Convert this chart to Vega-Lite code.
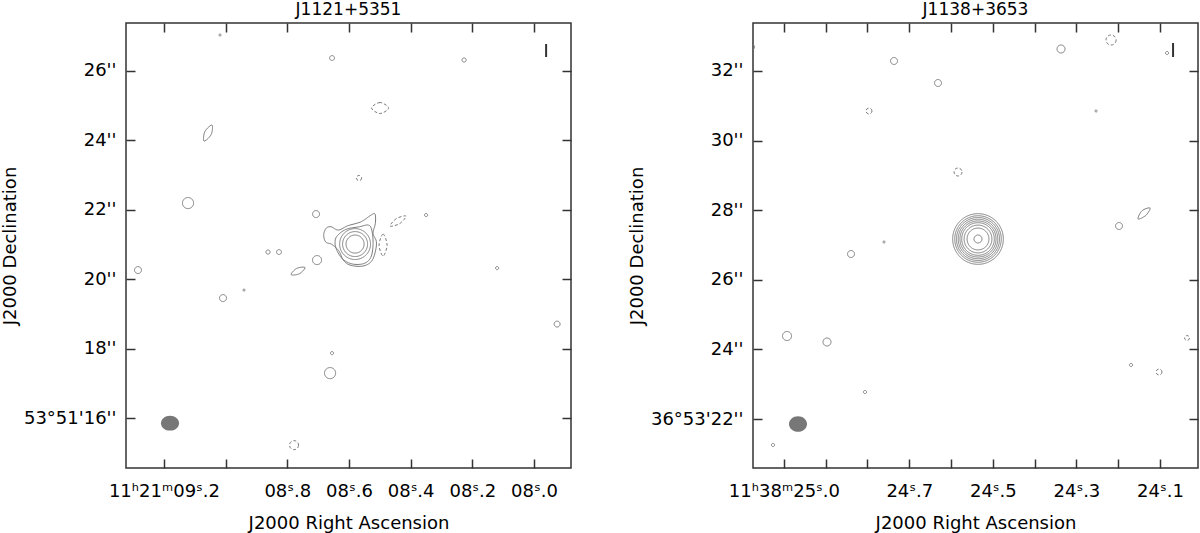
{
  "$schema": "https://vega.github.io/schema/vega-lite/v6.json",
  "background": "white",
  "padding": {"left": 0, "top": 0, "right": 0, "bottom": 0},
  "spacing": 54,
  "config": {
    "view": {"stroke": "#333333", "strokeWidth": 1.5},
    "axis": {"labelFont": "DejaVu Sans", "labelFontSize": 18, "labelColor": "#000000", "titleFont": "DejaVu Sans", "titleFontSize": 18, "titleFontWeight": "normal", "titleColor": "#000000", "domain": false, "grid": false, "tickColor": "#333333", "tickWidth": 1.5, "tickSize": -9, "labelOverlap": false, "labelFlush": false},
    "axisBottom": {"titlePadding": 14},
    "title": {"font": "DejaVu Sans", "fontSize": 17, "fontWeight": "normal", "color": "#000000", "offset": 3}
  },
  "datasets": {
    "L_points": [
      {"ra_s": 8.5802, "dec_as": 21.0112, "diam": 0.52, "sign": "pos"},
      {"ra_s": 8.5802, "dec_as": 21.0112, "diam": 0.72, "sign": "pos"},
      {"ra_s": 8.5802, "dec_as": 21.0112, "diam": 0.89, "sign": "pos"},
      {"ra_s": 9.0181, "dec_as": 27.0342, "diam": 0.06, "sign": "pos"},
      {"ra_s": 8.6548, "dec_as": 26.3714, "diam": 0.14, "sign": "pos"},
      {"ra_s": 8.2267, "dec_as": 26.3137, "diam": 0.12, "sign": "pos"},
      {"ra_s": 8.5673, "dec_as": 22.9132, "diam": 0.15, "sign": "neg"},
      {"ra_s": 9.1219, "dec_as": 22.1927, "diam": 0.32, "sign": "pos"},
      {"ra_s": 8.7067, "dec_as": 21.8757, "diam": 0.2, "sign": "pos"},
      {"ra_s": 9.2841, "dec_as": 20.2619, "diam": 0.2, "sign": "pos"},
      {"ra_s": 8.8624, "dec_as": 20.7807, "diam": 0.12, "sign": "pos"},
      {"ra_s": 8.8268, "dec_as": 20.7807, "diam": 0.14, "sign": "pos"},
      {"ra_s": 8.7035, "dec_as": 20.5501, "diam": 0.26, "sign": "pos"},
      {"ra_s": 9.0084, "dec_as": 19.455, "diam": 0.2, "sign": "pos"},
      {"ra_s": 8.9403, "dec_as": 19.6856, "diam": 0.06, "sign": "pos"},
      {"ra_s": 8.3499, "dec_as": 21.8469, "diam": 0.09, "sign": "pos"},
      {"ra_s": 8.1196, "dec_as": 20.3196, "diam": 0.09, "sign": "pos"},
      {"ra_s": 7.925, "dec_as": 18.7058, "diam": 0.17, "sign": "pos"},
      {"ra_s": 8.6548, "dec_as": 17.87, "diam": 0.09, "sign": "pos"},
      {"ra_s": 8.6613, "dec_as": 17.2937, "diam": 0.32, "sign": "pos"},
      {"ra_s": 8.7781, "dec_as": 15.2188, "diam": 0.26, "sign": "neg"}
    ],
    "L_lines": [
      {"id": "src1", "k": 1, "ra_s": 8.6743, "dec_as": 21.4636, "sign": "pos"},
      {"id": "src1", "k": 2, "ra_s": 8.6581, "dec_as": 21.5098, "sign": "pos"},
      {"id": "src1", "k": 3, "ra_s": 8.6344, "dec_as": 21.4147, "sign": "pos"},
      {"id": "src1", "k": 4, "ra_s": 8.6039, "dec_as": 21.5386, "sign": "pos"},
      {"id": "src1", "k": 5, "ra_s": 8.5608, "dec_as": 21.6539, "sign": "pos"},
      {"id": "src1", "k": 6, "ra_s": 8.5283, "dec_as": 21.8469, "sign": "pos"},
      {"id": "src1", "k": 7, "ra_s": 8.5154, "dec_as": 21.8757, "sign": "pos"},
      {"id": "src1", "k": 8, "ra_s": 8.5144, "dec_as": 21.6077, "sign": "pos"},
      {"id": "src1", "k": 9, "ra_s": 8.5218, "dec_as": 21.3195, "sign": "pos"},
      {"id": "src1", "k": 10, "ra_s": 8.5111, "dec_as": 21.0775, "sign": "pos"},
      {"id": "src1", "k": 11, "ra_s": 8.5154, "dec_as": 20.7605, "sign": "pos"},
      {"id": "src1", "k": 12, "ra_s": 8.5283, "dec_as": 20.5011, "sign": "pos"},
      {"id": "src1", "k": 13, "ra_s": 8.5552, "dec_as": 20.3772, "sign": "pos"},
      {"id": "src1", "k": 14, "ra_s": 8.5932, "dec_as": 20.3974, "sign": "pos"},
      {"id": "src1", "k": 15, "ra_s": 8.6169, "dec_as": 20.5299, "sign": "pos"},
      {"id": "src1", "k": 16, "ra_s": 8.6331, "dec_as": 20.8181, "sign": "pos"},
      {"id": "src1", "k": 17, "ra_s": 8.6558, "dec_as": 21.0026, "sign": "pos"},
      {"id": "src1", "k": 18, "ra_s": 8.6753, "dec_as": 21.0688, "sign": "pos"},
      {"id": "src1", "k": 19, "ra_s": 8.6818, "dec_as": 21.2706, "sign": "pos"},
      {"id": "src2", "k": 1, "ra_s": 8.6386, "dec_as": 21.2418, "sign": "pos"},
      {"id": "src2", "k": 2, "ra_s": 8.6094, "dec_as": 21.4348, "sign": "pos"},
      {"id": "src2", "k": 3, "ra_s": 8.5663, "dec_as": 21.5098, "sign": "pos"},
      {"id": "src2", "k": 4, "ra_s": 8.5371, "dec_as": 21.5587, "sign": "pos"},
      {"id": "src2", "k": 5, "ra_s": 8.5261, "dec_as": 21.4147, "sign": "pos"},
      {"id": "src2", "k": 6, "ra_s": 8.5218, "dec_as": 21.0313, "sign": "pos"},
      {"id": "src2", "k": 7, "ra_s": 8.5283, "dec_as": 20.6452, "sign": "pos"},
      {"id": "src2", "k": 8, "ra_s": 8.55, "dec_as": 20.455, "sign": "pos"},
      {"id": "src2", "k": 9, "ra_s": 8.5877, "dec_as": 20.4348, "sign": "pos"},
      {"id": "src2", "k": 10, "ra_s": 8.6192, "dec_as": 20.5703, "sign": "pos"},
      {"id": "src2", "k": 11, "ra_s": 8.6386, "dec_as": 20.8181, "sign": "pos"},
      {"id": "src2", "k": 12, "ra_s": 8.6451, "dec_as": 21.0487, "sign": "pos"},
      {"id": "E", "k": 1, "ra_s": 9.0441, "dec_as": 24.4405, "sign": "pos"},
      {"id": "E", "k": 2, "ra_s": 9.0671, "dec_as": 24.2561, "sign": "pos"},
      {"id": "E", "k": 3, "ra_s": 9.07, "dec_as": 23.9795, "sign": "pos"},
      {"id": "E", "k": 4, "ra_s": 9.047, "dec_as": 24.1639, "sign": "pos"},
      {"id": "F", "k": 1, "ra_s": 8.4715, "dec_as": 24.9305, "sign": "neg"},
      {"id": "F", "k": 2, "ra_s": 8.4991, "dec_as": 25.089, "sign": "neg"},
      {"id": "F", "k": 3, "ra_s": 8.5267, "dec_as": 24.9305, "sign": "neg"},
      {"id": "F", "k": 4, "ra_s": 8.4991, "dec_as": 24.772, "sign": "neg"},
      {"id": "L", "k": 1, "ra_s": 8.7424, "dec_as": 20.334, "sign": "pos"},
      {"id": "L", "k": 2, "ra_s": 8.7695, "dec_as": 20.3103, "sign": "pos"},
      {"id": "L", "k": 3, "ra_s": 8.7878, "dec_as": 20.1323, "sign": "pos"},
      {"id": "L", "k": 4, "ra_s": 8.7608, "dec_as": 20.1559, "sign": "pos"},
      {"id": "P", "k": 1, "ra_s": 8.4148, "dec_as": 21.8181, "sign": "neg"},
      {"id": "P", "k": 2, "ra_s": 8.4459, "dec_as": 21.7472, "sign": "neg"},
      {"id": "P", "k": 3, "ra_s": 8.4667, "dec_as": 21.5299, "sign": "neg"},
      {"id": "P", "k": 4, "ra_s": 8.4356, "dec_as": 21.6008, "sign": "neg"},
      {"id": "Q", "k": 1, "ra_s": 8.4764, "dec_as": 20.9824, "sign": "neg"},
      {"id": "Q", "k": 2, "ra_s": 8.4894, "dec_as": 21.2994, "sign": "neg"},
      {"id": "Q", "k": 3, "ra_s": 8.5024, "dec_as": 20.9824, "sign": "neg"},
      {"id": "Q", "k": 4, "ra_s": 8.4894, "dec_as": 20.6654, "sign": "neg"}
    ],
    "L_beam": [{"ra_s": 9.1803, "dec_as": 15.8528, "diam": 0.52}],
    "L_bar": [{"ra_s": 7.9607, "dec_lo": 26.4002, "dec_hi": 26.7748}],
    "R_points": [
      {"ra_s": 24.5355, "dec_as": 27.1723, "diam": 0.23, "sign": "pos"},
      {"ra_s": 24.5355, "dec_as": 27.1723, "diam": 0.63, "sign": "pos"},
      {"ra_s": 24.5355, "dec_as": 27.1723, "diam": 0.8, "sign": "pos"},
      {"ra_s": 24.5355, "dec_as": 27.1723, "diam": 0.94, "sign": "pos"},
      {"ra_s": 24.5355, "dec_as": 27.1723, "diam": 1.04, "sign": "pos"},
      {"ra_s": 24.5355, "dec_as": 27.1723, "diam": 1.14, "sign": "pos"},
      {"ra_s": 24.5355, "dec_as": 27.1723, "diam": 1.24, "sign": "pos"},
      {"ra_s": 24.5355, "dec_as": 27.1723, "diam": 1.34, "sign": "pos"},
      {"ra_s": 24.5355, "dec_as": 27.1723, "diam": 1.46, "sign": "pos"},
      {"ra_s": 25.0764, "dec_as": 32.6896, "diam": 0.15, "sign": "pos"},
      {"ra_s": 24.7365, "dec_as": 32.2873, "diam": 0.2, "sign": "pos"},
      {"ra_s": 24.6312, "dec_as": 31.6551, "diam": 0.2, "sign": "pos"},
      {"ra_s": 24.3368, "dec_as": 32.6321, "diam": 0.23, "sign": "pos"},
      {"ra_s": 24.2171, "dec_as": 32.8908, "diam": 0.29, "sign": "neg"},
      {"ra_s": 24.0831, "dec_as": 32.5172, "diam": 0.09, "sign": "pos"},
      {"ra_s": 24.7963, "dec_as": 30.8505, "diam": 0.17, "sign": "neg"},
      {"ra_s": 24.253, "dec_as": 30.8505, "diam": 0.06, "sign": "pos"},
      {"ra_s": 24.5833, "dec_as": 29.0976, "diam": 0.23, "sign": "neg"},
      {"ra_s": 24.7604, "dec_as": 27.0861, "diam": 0.06, "sign": "pos"},
      {"ra_s": 24.8394, "dec_as": 26.7413, "diam": 0.2, "sign": "pos"},
      {"ra_s": 24.198, "dec_as": 27.5459, "diam": 0.2, "sign": "pos"},
      {"ra_s": 24.9926, "dec_as": 24.3849, "diam": 0.26, "sign": "pos"},
      {"ra_s": 24.8969, "dec_as": 24.2125, "diam": 0.23, "sign": "pos"},
      {"ra_s": 24.0352, "dec_as": 24.3274, "diam": 0.14, "sign": "neg"},
      {"ra_s": 24.8059, "dec_as": 22.7757, "diam": 0.09, "sign": "pos"},
      {"ra_s": 24.1692, "dec_as": 23.5516, "diam": 0.09, "sign": "pos"},
      {"ra_s": 24.1022, "dec_as": 23.3504, "diam": 0.17, "sign": "neg"},
      {"ra_s": 25.0261, "dec_as": 21.2527, "diam": 0.09, "sign": "pos"}
    ],
    "R_lines": [
      {"id": "R1", "k": 1, "ra_s": 24.1238, "dec_as": 28.0631, "sign": "pos"},
      {"id": "R1", "k": 2, "ra_s": 24.143, "dec_as": 27.9829, "sign": "pos"},
      {"id": "R1", "k": 3, "ra_s": 24.1525, "dec_as": 27.747, "sign": "pos"},
      {"id": "R1", "k": 4, "ra_s": 24.1333, "dec_as": 27.8559, "sign": "pos"}
    ],
    "R_beam": [{"ra_s": 24.9663, "dec_as": 21.8562, "diam": 0.52}],
    "R_bar": [{"ra_s": 24.0687, "dec_lo": 32.4022, "dec_hi": 32.8046}]
  },
  "hconcat": [
    {
      "title": {"text": "J1121+5351"},
      "width": 445,
      "height": 445,
      "layer": [
        {
          "data": {"name": "L_points"},
          "mark": {"type": "point", "shape": "circle", "filled": false, "stroke": "#7a7a7a", "strokeWidth": 1, "opacity": 1, "clip": true},
          "encoding": {
            "x": {"field": "ra_s", "type": "quantitative", "scale": {"domain": [7.88, 9.323], "reverse": true, "nice": false, "zero": false},
                  "axis": {"orient": "bottom", "title": "J2000 Right Ascension", "values": [9.2, 9.0, 8.8, 8.6, 8.4, 8.2, 8.0], "labelPadding": 23,
                           "labelExpr": "datum.value > 9.1 ? '11ʰ21ᵐ09ˢ.2' : datum.value > 8.9 ? '' : '08ˢ.' + format((datum.value - 8) * 10, '.0f')"}},
            "y": {"field": "dec_as", "type": "quantitative", "scale": {"domain": [14.56, 27.38], "nice": false, "zero": false},
                  "axis": {"orient": "left", "title": "J2000 Declination", "values": [16, 18, 20, 22, 24, 26], "labelPadding": 19,
                           "labelExpr": "datum.value == 16 ? \"53°51'16''\" : datum.value + \"''\""}},
            "size": {"field": "diam", "type": "quantitative", "scale": {"type": "pow", "exponent": 2, "domain": [0, 1], "range": [0, 1204]}, "legend": null},
            "strokeDash": {"field": "sign", "type": "nominal", "scale": {"domain": ["pos", "neg"], "range": [[1, 0], [3, 2]]}, "legend": null}
          }
        },
        {
          "data": {"name": "L_lines"},
          "mark": {"type": "line", "interpolate": "cardinal-closed", "stroke": "#7a7a7a", "strokeWidth": 1, "clip": true},
          "encoding": {
            "x": {"field": "ra_s", "type": "quantitative", "axis": null},
            "y": {"field": "dec_as", "type": "quantitative", "axis": null},
            "detail": {"field": "id"},
            "order": {"field": "k", "type": "quantitative"},
            "strokeDash": {"field": "sign", "type": "nominal", "scale": {"domain": ["pos", "neg"], "range": [[1, 0], [3, 2]]}, "legend": null}
          }
        },
        {
          "data": {"name": "L_beam"},
          "mark": {"type": "point", "shape": "M-1,0A1,0.83,0,1,1,1,0A1,0.83,0,1,1,-1,0Z", "filled": true, "fill": "#777777", "strokeWidth": 0, "opacity": 1},
          "encoding": {
            "x": {"field": "ra_s", "type": "quantitative", "axis": null},
            "y": {"field": "dec_as", "type": "quantitative", "axis": null},
            "size": {"field": "diam", "type": "quantitative", "scale": {"type": "pow", "exponent": 2, "domain": [0, 1], "range": [0, 1204]}, "legend": null}
          }
        },
        {
          "data": {"name": "L_bar"},
          "mark": {"type": "rule", "stroke": "#333333", "strokeWidth": 2},
          "encoding": {
            "x": {"field": "ra_s", "type": "quantitative", "axis": {"orient": "top", "title": null, "labels": false, "values": [9.2, 9.0, 8.8, 8.6, 8.4, 8.2, 8.0]}},
            "y": {"field": "dec_lo", "type": "quantitative", "axis": {"orient": "right", "title": null, "labels": false, "values": [16, 18, 20, 22, 24, 26]}},
            "y2": {"field": "dec_hi"}
          }
        }
      ],
      "resolve": {"axis": {"x": "independent", "y": "independent"}}
    },
    {
      "title": {"text": "J1138+3653"},
      "width": 445,
      "height": 445,
      "layer": [
        {
          "data": {"name": "R_points"},
          "mark": {"type": "point", "shape": "circle", "filled": false, "stroke": "#7a7a7a", "strokeWidth": 1, "opacity": 1, "clip": true},
          "encoding": {
            "x": {"field": "ra_s", "type": "quantitative", "scale": {"domain": [24.009, 25.074], "reverse": true, "nice": false, "zero": false},
                  "axis": {"orient": "bottom", "title": "J2000 Right Ascension", "values": [25.0, 24.9, 24.8, 24.7, 24.6, 24.5, 24.4, 24.3, 24.2, 24.1], "labelPadding": 23,
                           "labelExpr": "round(datum.value * 10) == 250 ? '11ʰ38ᵐ25ˢ.0' : (round(datum.value * 10) % 2 == 1 && round(datum.value * 10) < 249) ? '24ˢ.' + (round(datum.value * 10) - 240) : ''"}},
            "y": {"field": "dec_as", "type": "quantitative", "scale": {"domain": [20.592, 33.379], "nice": false, "zero": false},
                  "axis": {"orient": "left", "title": "J2000 Declination", "values": [22, 24, 26, 28, 30, 32], "labelPadding": 19,
                           "labelExpr": "datum.value == 22 ? \"36°53'22''\" : datum.value + \"''\""}},
            "size": {"field": "diam", "type": "quantitative", "scale": {"type": "pow", "exponent": 2, "domain": [0, 1], "range": [0, 1211]}, "legend": null},
            "strokeDash": {"field": "sign", "type": "nominal", "scale": {"domain": ["pos", "neg"], "range": [[1, 0], [3, 2]]}, "legend": null}
          }
        },
        {
          "data": {"name": "R_lines"},
          "mark": {"type": "line", "interpolate": "cardinal-closed", "stroke": "#7a7a7a", "strokeWidth": 1, "clip": true},
          "encoding": {
            "x": {"field": "ra_s", "type": "quantitative", "axis": null},
            "y": {"field": "dec_as", "type": "quantitative", "axis": null},
            "detail": {"field": "id"},
            "order": {"field": "k", "type": "quantitative"},
            "strokeDash": {"field": "sign", "type": "nominal", "scale": {"domain": ["pos", "neg"], "range": [[1, 0], [3, 2]]}, "legend": null}
          }
        },
        {
          "data": {"name": "R_beam"},
          "mark": {"type": "point", "shape": "M-1,0A1,0.87,0,1,1,1,0A1,0.87,0,1,1,-1,0Z", "filled": true, "fill": "#777777", "strokeWidth": 0, "opacity": 1},
          "encoding": {
            "x": {"field": "ra_s", "type": "quantitative", "axis": null},
            "y": {"field": "dec_as", "type": "quantitative", "axis": null},
            "size": {"field": "diam", "type": "quantitative", "scale": {"type": "pow", "exponent": 2, "domain": [0, 1], "range": [0, 1211]}, "legend": null}
          }
        },
        {
          "data": {"name": "R_bar"},
          "mark": {"type": "rule", "stroke": "#333333", "strokeWidth": 2},
          "encoding": {
            "x": {"field": "ra_s", "type": "quantitative", "axis": {"orient": "top", "title": null, "labels": false, "values": [25.0, 24.9, 24.8, 24.7, 24.6, 24.5, 24.4, 24.3, 24.2, 24.1]}},
            "y": {"field": "dec_lo", "type": "quantitative", "axis": {"orient": "right", "title": null, "labels": false, "values": [22, 24, 26, 28, 30, 32]}},
            "y2": {"field": "dec_hi"}
          }
        }
      ],
      "resolve": {"axis": {"x": "independent", "y": "independent"}}
    }
  ]
}
